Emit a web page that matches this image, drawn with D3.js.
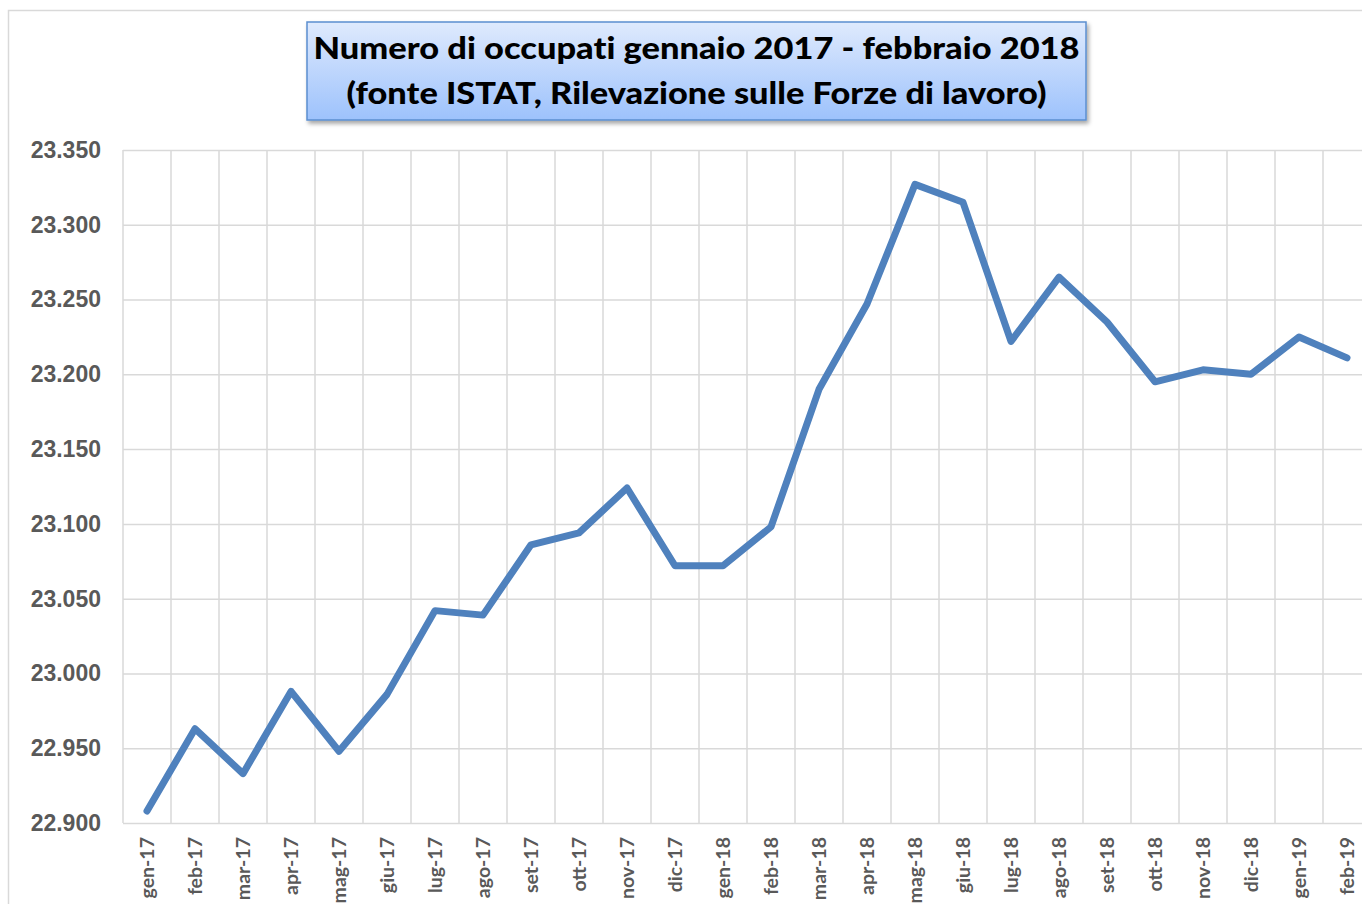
<!DOCTYPE html>
<html>
<head>
<meta charset="utf-8">
<script src="https://cdn.jsdelivr.net/npm/d3@7"></script>
<style>
  body { margin: 0; background: #fff; }
  svg { display: block; }
  .grid line { stroke: #d9d9d9; stroke-width: 1.5; }
  .grid .domain { display: none; }
  .axis--y text { font-family: "Liberation Sans", Arial, sans-serif; font-weight: bold; font-size: 23px; fill: #595959; }
  .axis--x text { font-family: Lato, "Open Sans", sans-serif; font-weight: bold; font-size: 19.5px; fill: #595959; }
  .axis .domain, .axis line { display: none; }
</style>
</head>
<body>
<svg width="1362" height="904"></svg>
<script>
// months on the x axis
var months = ["gen-17", "feb-17", "mar-17", "apr-17", "mag-17", "giu-17", "lug-17", "ago-17",
  "set-17", "ott-17", "nov-17", "dic-17", "gen-18", "feb-18", "mar-18", "apr-18", "mag-18",
  "giu-18", "lug-18", "ago-18", "set-18", "ott-18", "nov-18", "dic-18", "gen-19", "feb-19"];

// occupati, migliaia
var occupati = [22908, 22963, 22933, 22988, 22948, 22986, 23042, 23039,
  23086, 23094, 23124, 23072, 23072, 23098, 23190, 23247, 23327,
  23315, 23222, 23265, 23235, 23195, 23203, 23200, 23225, 23211];

var yTicks = [22900, 22950, 23000, 23050, 23100, 23150, 23200, 23250, 23300, 23350];

var titleLines = ["Numero di occupati gennaio 2017 - febbraio 2018",
  "(fonte ISTAT, Rilevazione sulle Forze di lavoro)"];

var data = months.map(function (m, i) { return { m: m, v: occupati[i] }; });

var it = d3.formatLocale({ decimal: ",", thousands: ".", grouping: [3], currency: ["€", ""] });
var fmt = it.format(",d");

var svg = d3.select("svg");

var plot = { left: 123, right: 1371, top: 150, bottom: 823 };

var x = d3.scaleBand().domain(months).range([plot.left, plot.right]).padding(0);
var y = d3.scaleLinear().domain([22900, 23350]).range([plot.bottom, plot.top]);

// outer chart border
svg.append("rect")
  .attr("x", 8.5).attr("y", 10.5)
  .attr("width", 1400).attr("height", 1000)
  .attr("fill", "none").attr("stroke", "#d9d9d9").attr("stroke-width", 1.5);

// horizontal grid
svg.append("g")
  .attr("class", "grid")
  .attr("transform", "translate(" + plot.left + ",0)")
  .call(d3.axisLeft(y).tickValues(yTicks).tickSize(-(plot.right - plot.left)).tickFormat(""));

// vertical grid at band edges
var edges = months.map(function (m) { return x(m); }).concat([x.range()[1]]);
svg.append("g")
  .attr("class", "grid")
  .selectAll("line")
  .data(edges)
  .enter().append("line")
  .attr("x1", function (d) { return d; })
  .attr("x2", function (d) { return d; })
  .attr("y1", plot.top)
  .attr("y2", plot.bottom);

// y axis labels
svg.append("g")
  .attr("class", "axis axis--y")
  .attr("transform", "translate(" + (plot.left - 22) + ",0)")
  .call(d3.axisLeft(y).tickValues(yTicks).tickSize(0).tickPadding(0).tickFormat(fmt));

// x axis labels, rotated
svg.append("g")
  .attr("class", "axis axis--x")
  .attr("transform", "translate(0," + plot.bottom + ")")
  .call(d3.axisBottom(x).tickSize(0))
  .selectAll("text")
  .attr("x", -14)
  .attr("y", 0)
  .attr("dy", "0.35em")
  .attr("transform", "rotate(-90)")
  .style("text-anchor", "end");

// the line
var line = d3.line()
  .x(function (d) { return x(d.m) + x.bandwidth() / 2; })
  .y(function (d) { return y(d.v); });

svg.append("path")
  .datum(data)
  .attr("d", line)
  .attr("fill", "none")
  .attr("stroke", "#4f81bd")
  .attr("stroke-width", 7)
  .attr("stroke-linejoin", "round")
  .attr("stroke-linecap", "round");

// title box
var defs = svg.append("defs");
var grad = defs.append("linearGradient")
  .attr("id", "titleGrad")
  .attr("x1", 0).attr("y1", 0).attr("x2", 0).attr("y2", 1);
grad.append("stop").attr("offset", "0%").attr("stop-color", "#dfeafd");
grad.append("stop").attr("offset", "100%").attr("stop-color", "#9dc2fc");

var shadow = defs.append("filter").attr("id", "shadow")
  .attr("x", "-5%").attr("y", "-10%").attr("width", "110%").attr("height", "130%");
shadow.append("feDropShadow")
  .attr("dx", 2).attr("dy", 3).attr("stdDeviation", 2)
  .attr("flood-color", "#000").attr("flood-opacity", 0.35);

var box = { x: 307, y: 22, w: 779, h: 98 };
svg.append("rect")
  .attr("x", box.x).attr("y", box.y)
  .attr("width", box.w).attr("height", box.h)
  .attr("fill", "url(#titleGrad)")
  .attr("stroke", "#5b8ed0")
  .attr("stroke-width", 1.5)
  .attr("filter", "url(#shadow)");

var titleWidths = [766, 700];
svg.append("g")
  .selectAll("text")
  .data(titleLines)
  .enter().append("text")
  .attr("x", box.x + box.w / 2)
  .attr("y", function (d, i) { return 59 + i * 45; })
  .attr("text-anchor", "middle")
  .attr("textLength", function (d, i) { return titleWidths[i]; })
  .attr("lengthAdjust", "spacingAndGlyphs")
  .style("font-family", "Lato, 'Open Sans', sans-serif")
  .style("font-weight", "900")
  .style("font-variant-ligatures", "none")
  .style("font-size", "31px")
  .style("fill", "#000")
  .text(function (d) { return d; });
</script>
</body>
</html>
